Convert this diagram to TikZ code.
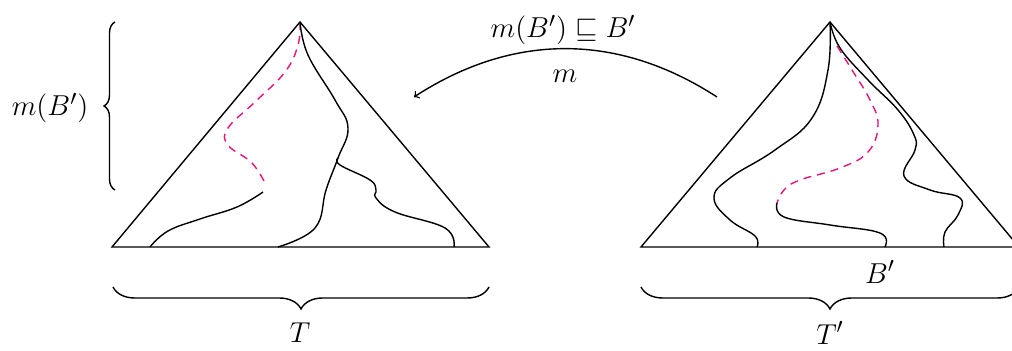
\documentclass[tikz,border=0pt]{standalone}
\usepackage{amssymb}
\usetikzlibrary{decorations.pathreplacing}
\definecolor{pinkdash}{RGB}{230,20,120}
\begin{document}
\begin{tikzpicture}[x=0.5pt,y=-0.5pt,
  edge/.style={line width=0.7pt,black},
  pinkline/.style={line width=0.7pt,pinkdash,dash pattern=on 4pt off 3pt},
  lbl/.style={font=\fontsize{15.5}{19}\selectfont, inner sep=1pt},
  bracedec/.style={line width=0.7pt,decorate,decoration={brace,amplitude=#1}}]
\useasboundingbox (0,0) rectangle (1012,351);
% left tree
\coordinate (LA) at (300,22);
\coordinate (LL) at (112,247);
\coordinate (LR) at (489,247);
\draw[edge,line join=miter] (LL) -- (LA) -- (LR) -- cycle;
\draw[edge] plot[smooth,tension=0.7] coordinates {(150,247) (168,231) (200,219) (237,207) (263,192)};
\draw[pinkline] plot[smooth,tension=0.7] coordinates {(300,22) (298,45) (285,72) (255,102) (228,128) (228,145) (252,163) (266,185)};
\draw[edge] plot[smooth,tension=0.7] coordinates {(300,22) (308,55) (335,100) (348,128) (338,158) (326,190) (315,228) (278,247)};
\draw[edge] plot[smooth,tension=0.7] coordinates {(338,158) (340,165) (370,180) (376,190) (376,198) (395,212) (445,228) (454,247)};
% right tree
\coordinate (RA) at (830,22);
\coordinate (RL) at (641,247);
\coordinate (RR) at (1019,247);
\draw[edge,line join=miter] (RL) -- (RA) -- (RR) -- cycle;
\draw[edge] plot[smooth,tension=0.7] coordinates {(830,22) (828,70) (812,118) (775,150) (730,178) (714,198) (730,220) (755,236) (757,247)};
\draw[edge] plot[smooth,tension=0.7] coordinates {(830,22) (840,48) (868,80) (898,110) (914,135) (915,150) (904,176) (930,190) (960,198) (958,215) (945,232) (944,247)};
\draw[pinkline] plot[smooth,tension=0.7] coordinates {(837,46) (852,70) (870,100) (878,125) (868,152) (840,168) (800,180) (784,190) (777,203)};
\draw[edge] plot[smooth,tension=0.7] coordinates {(777,203) (784,217) (830,225) (880,233) (885,247)};
% braces
\draw[bracedec=5.5pt] (115,190) -- (115,22);
\node[lbl] (mB) at (50,108) {$m(B')$};
\draw[bracedec=11pt] (489,287) -- (113,287);
\node[lbl] (T) at (300,333) {$T$};
\draw[bracedec=11pt] (1019,287) -- (641,287);
\node[lbl] (Tp) at (830,333) {$T'$};
\node[lbl] (Bp) at (880,272) {$B'$};
% arc
\coordinate (arcS) at (717,97);
\coordinate (arcE) at (414,97);
\draw[line width=0.7pt,->] (arcS) to[bend right=33] (arcE);
\node[lbl] (top) at (563,30) {$m(B')\sqsubseteq B'$};
\node[lbl] (mlab) at (565,76) {$m$};
\end{tikzpicture}
\end{document}
